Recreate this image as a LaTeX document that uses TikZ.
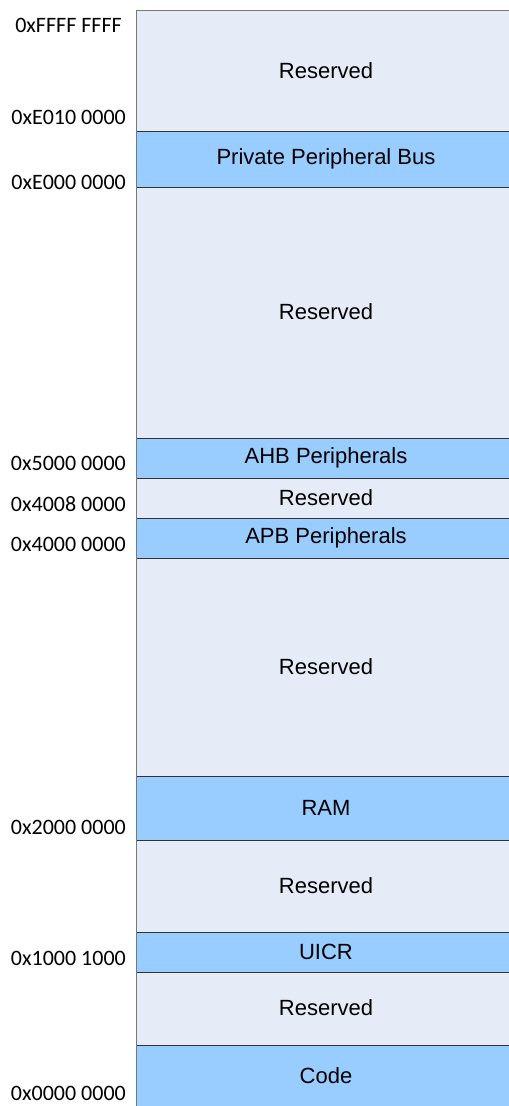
\documentclass[tikz,border=0pt]{standalone}
\usepackage{fontspec}
\setmainfont{Liberation Sans}
\newfontfamily\carlitofont{Carlito}
\definecolor{resv}{RGB}{230,236,247}
\definecolor{perif}{RGB}{153,204,255}
\definecolor{sepline}{RGB}{50,50,50}
\definecolor{edgeline}{RGB}{120,120,120}
\tikzset{
  region/.style={inner sep=0pt, font=\fontsize{22bp}{26bp}\selectfont},
  addr/.style={inner sep=0pt, anchor=east, font=\carlitofont\fontsize{22bp}{26bp}\selectfont},
  sep/.style={draw=sepline, line width=0.9bp},
}
\begin{document}
\begin{tikzpicture}[x=1bp,y=-1bp]
\useasboundingbox (0,0) rectangle (509,1106);
\clip (0,0) rectangle (509,1106);
% fills
\fill[resv]  (136,10)   rectangle (520,131);
\fill[perif] (136,131)  rectangle (520,187);
\fill[resv]  (136,187)  rectangle (520,438);
\fill[perif] (136,438)  rectangle (520,478);
\fill[resv]  (136,478)  rectangle (520,518);
\fill[perif] (136,518)  rectangle (520,558);
\fill[resv]  (136,558)  rectangle (520,776);
\fill[perif] (136,776)  rectangle (520,840);
\fill[resv]  (136,840)  rectangle (520,932);
\fill[perif] (136,932)  rectangle (520,972);
\fill[resv]  (136,972)  rectangle (520,1045);
\fill[perif] (136,1045) rectangle (520,1110);
% separators
\foreach \yy in {131,187,438,478,518,558,776,840,932,972,1045}
  \draw[sep] (136,\yy) -- (520,\yy);
\draw[edgeline, line width=0.9bp] (136,1110) -- (136,10) -- (520,10);
% region labels
\node[region] (r1) at (326,70.5) {Reserved};
\node[region] (ppb) at (326,159) {Private Peripheral Bus};
\node[region] (r2) at (326,312) {Reserved};
\node[region] (ahb) at (326,458) {AHB Peripherals};
\node[region] (r3) at (326,498) {Reserved};
\node[region] (apb) at (326,538) {APB Peripherals};
\node[region] (r4) at (326,667) {Reserved};
\node[region] (ram) at (326,808) {RAM};
\node[region] (r5) at (326,886) {Reserved};
\node[region] (uicr) at (326,952) {UICR};
\node[region] (r6) at (326,1008) {Reserved};
\node[region] (code) at (326,1076) {Code};
% addresses
\node[addr] (aFFFF) at (122,25.5) {0xFFFF FFFF};
\node[addr] (aE010) at (126,117.5) {0xE010 0000};
\node[addr] (aE000) at (126,182.5) {0xE000 0000};
\node[addr] (a5000) at (126,463.5) {0x5000 0000};
\node[addr] (a4008) at (126,504) {0x4008 0000};
\node[addr] (a4000) at (126,544.5) {0x4000 0000};
\node[addr] (a2000) at (126,827) {0x2000 0000};
\node[addr] (a1000) at (126,958.5) {0x1000 1000};
\node[addr] (a0000) at (126,1093.5) {0x0000 0000};
\end{tikzpicture}
\end{document}
